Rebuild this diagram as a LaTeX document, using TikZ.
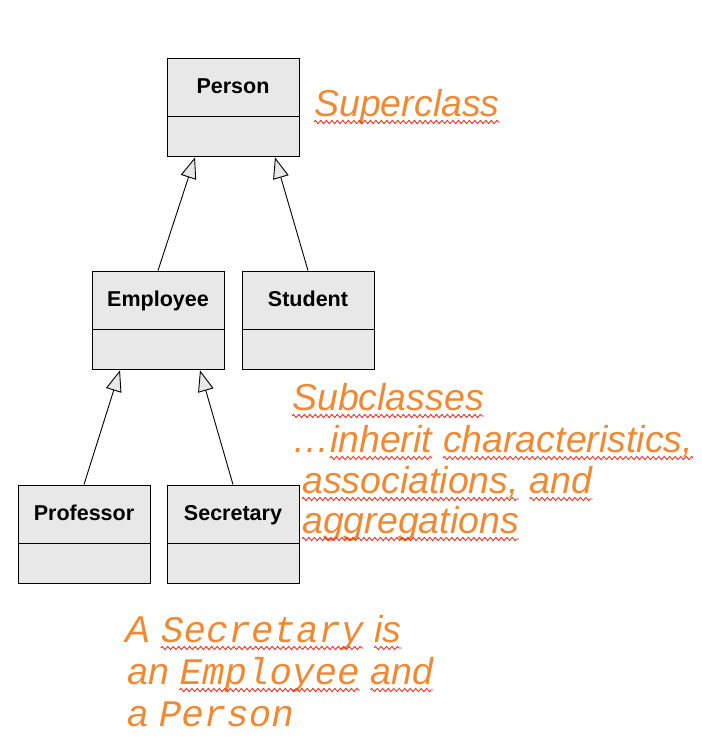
\documentclass[tikz,border=0pt]{standalone}
\usepackage{fontspec}
\setmainfont{Liberation Sans}
\newfontfamily\monof{Liberation Mono}
\usetikzlibrary{positioning,arrows.meta,decorations.pathmorphing}

\definecolor{boxgray}{RGB}{232,232,232}
\definecolor{noteorange}{RGB}{239,137,52}
\definecolor{squigred}{RGB}{228,52,40}

\newlength\wordgap
\setlength\wordgap{10.4pt}

\begin{document}
\begin{tikzpicture}[x=1pt, y=-1pt,
    cls/.style={draw, line width=0.9pt, fill=boxgray, minimum width=132pt,
                minimum height=58pt, inner sep=0pt, text height=15.5pt, text depth=3pt,
                font=\fontsize{21.5}{24}\selectfont\bfseries},
    clsbot/.style={draw, line width=0.9pt, fill=boxgray, minimum width=132pt,
                   minimum height=40pt, inner sep=0pt},
    inh/.style={-{Triangle[length=21pt, width=16pt, fill=boxgray]}, line width=0.9pt},
    note/.style={anchor=base west, inner sep=0pt, text=noteorange,
                 font=\fontsize{37.5}{41}\selectfont\itshape},
    code/.style={note, font=\fontsize{37.5}{41}\selectfont\itshape\monof},
    squig/.style={draw=squigred, line width=0.9pt, decorate,
                  decoration={zigzag, amplitude=1.6pt, segment length=5.5pt}}
]
\useasboundingbox (0,0) rectangle (702,756);

\node[cls] (person)    at (233,87)  {Person};
\node[clsbot, below=0pt of person] (personB) {};
\node[cls] (employee)  at (158,300) {Employee};
\node[clsbot, below=0pt of employee] (employeeB) {};
\node[cls] (student)   at (308,300) {Student};
\node[clsbot, below=0pt of student] (studentB) {};
\node[cls] (professor) at (84,514)  {Professor};
\node[clsbot, below=0pt of professor] (professorB) {};
\node[cls] (secretary) at (233,514) {Secretary};
\node[clsbot, below=0pt of secretary] (secretaryB) {};

\draw[inh] (employee.north)  -- ([xshift=-38pt]personB.south);
\draw[inh] (student.north)   -- ([xshift=42pt]personB.south);
\draw[inh] (professor.north) -- ([xshift=-38pt]employeeB.south);
\draw[inh] (secretary.north) -- ([xshift=42pt]employeeB.south);

% notes, one node per word
\node[note] (superT) at (314,116) {Superclass};

\node[note] (sub1)  at (292,410) {Subclasses};
\node[note] (sub2a) at (292,452) {…};
\node[note] (sub2b) at (sub2a.base east) {inherit};
\node[note] (sub2c) at ([xshift=\wordgap]sub2b.base east) {characteristics,};
\node[note] (sub3a) at (302,493) {associations,};
\node[note] (sub3b) at ([xshift=\wordgap]sub3a.base east) {and};
\node[note] (sub4)  at (302,533) {aggregations};

\node[note] (isa1a) at (125,642) {A};
\node[code] (isa1b) at ([xshift=\wordgap]isa1a.base east) {Secretary};
\node[note] (isa1c) at ([xshift=\wordgap]isa1b.base east) {is};
\node[note] (isa2a) at (127,684) {an};
\node[code] (isa2b) at ([xshift=\wordgap]isa2a.base east) {Employee};
\node[note] (isa2c) at ([xshift=\wordgap]isa2b.base east) {and};
\node[note] (isa3a) at (127,726) {a};
\node[code] (isa3b) at ([xshift=\wordgap]isa3a.base east) {Person};

\foreach \w in {superT,sub1,sub2b,sub2c,sub3a,sub3b,sub4,isa1b,isa1c,isa2b,isa2c}
  \draw[squig] ([yshift=-6pt]\w.base west) -- ([yshift=-6pt]\w.base east);

\end{tikzpicture}
\end{document}
